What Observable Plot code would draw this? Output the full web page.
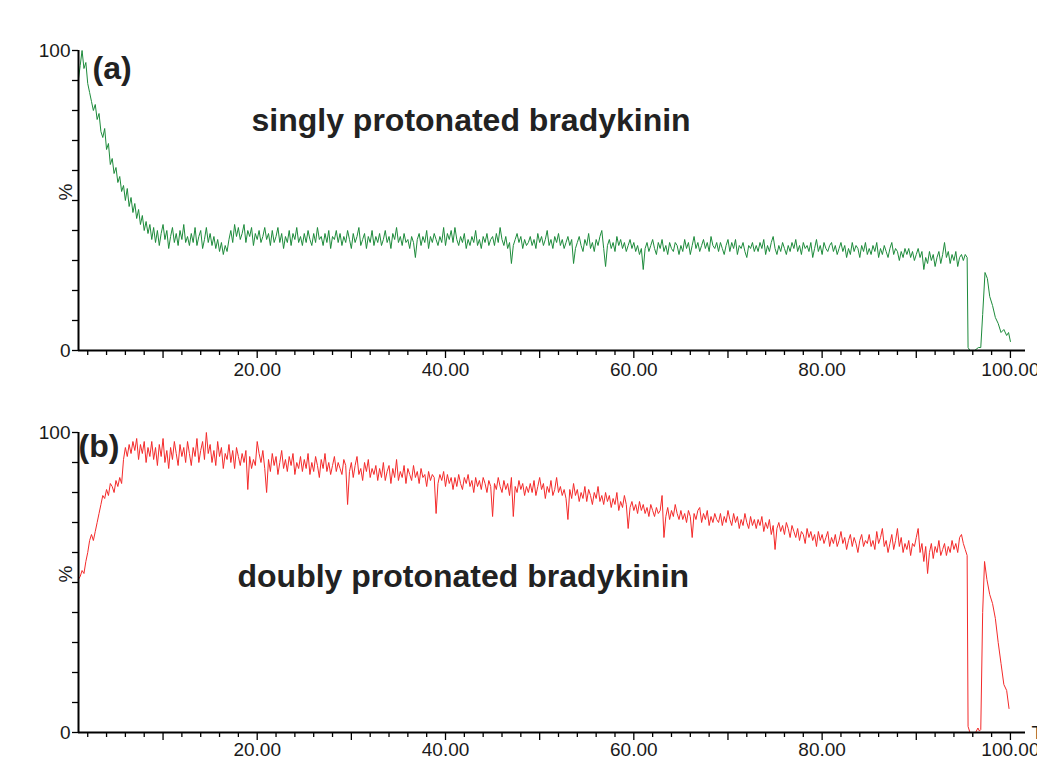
<!DOCTYPE html>
<html>
<head>
<meta charset="utf-8">
<script src="https://cdn.jsdelivr.net/npm/d3@7"></script>
<script src="https://cdn.jsdelivr.net/npm/@observablehq/plot@0.6"></script>
<style>
  html, body { margin: 0; padding: 0; background: #fff; overflow: hidden; width: 1037px; height: 757px; }
  #chart div { display: block; }
</style>
</head>
<body>
<div id="chart"></div>
<script>
// ---- data ----
const timeStart = 1.0;   // min
const timeStep = 0.2;    // min, sampling of the noisy trace

// (a) singly protonated bradykinin, % intensity on the regular grid (1.0 ... 95.4)
const seriesA = [
  90,95,100,94,96,89,86,83,80,82,77,79,73,71,74,67,69,62,64,59,
  61,56,58,53,55,50,54,48,51,46,49,44,47,42,45,40,43,39,42,37,
  41,36,40,35,39,42,37,40,34,38,41,36,39,35,40,37,42,36,38,35,
  39,36,41,35,38,40,34,37,41,36,39,35,38,34,37,33,36,32,35,33,
  37,40,36,42,38,41,37,39,42,36,40,38,41,35,39,37,40,36,38,41,
  37,39,35,40,36,38,41,36,39,34,38,36,40,35,39,37,41,36,38,35,
  39,36,40,37,35,39,36,41,37,38,35,39,36,40,34,38,37,40,36,39,
  35,38,36,40,37,34,39,36,38,41,35,37,39,34,38,36,40,35,38,36,
  39,35,37,40,36,38,34,39,37,41,36,38,35,39,36,37,34,38,36,31,
  37,39,35,38,36,40,34,38,36,39,37,35,38,36,41,35,39,37,40,36,
  41,37,35,38,36,39,34,37,35,38,36,40,35,37,34,38,36,39,35,37,
  38,35,39,36,41,37,35,38,34,36,29,35,37,39,36,38,34,37,35,36,
  38,35,37,34,39,36,38,35,37,40,35,37,34,38,36,39,35,37,34,36,
  38,35,37,29,34,36,38,35,33,37,35,39,34,36,33,37,35,38,40,34,
  28,35,37,34,36,33,38,35,37,34,36,33,35,37,34,36,33,35,32,34,
  27,34,36,33,35,37,34,32,36,34,37,33,35,32,36,34,33,36,35,32,
  35,33,37,34,36,32,35,38,34,36,33,35,37,34,36,33,38,35,34,36,
  33,36,34,32,35,37,33,36,34,37,32,35,34,36,33,31,35,34,36,33,
  35,33,36,34,37,32,35,33,36,38,34,32,35,33,36,34,32,35,33,36,
  34,37,33,35,32,36,34,35,33,36,31,34,37,33,35,32,36,34,33,35,
  36,33,35,32,34,36,33,35,31,34,32,36,33,35,34,31,35,33,36,32,
  34,32,35,33,36,31,34,32,35,33,31,34,36,32,34,33,30,33,31,34,
  32,34,31,33,30,32,34,31,33,27,31,29,33,30,32,28,31,33,29,32,
  36,31,33,29,32,30,33,28,31,32,30,32,31
];
const tailTimesA  = [95.5, 95.7, 96.2, 96.6, 96.85, 97.05, 97.3, 97.55, 97.8, 98.1, 98.4, 98.7, 99.0, 99.3, 99.6, 99.8, 100.0];
const tailValuesA = [1, 0, 0, 1, 1, 12, 26, 24, 18, 15, 11, 9, 6, 7, 5, 6, 3];

// (b) doubly protonated bradykinin, % intensity on the regular grid (1.0 ... 95.4)
const seriesB = [
  51,52,54,53,57,60,64,66,64,67,70,73,76,79,78,81,79,83,82,80,
  84,82,85,83,91,95,92,96,93,97,94,98,91,96,93,97,90,95,92,97,
  91,95,89,96,92,98,90,94,88,95,91,97,93,89,96,92,95,90,97,93,
  89,95,92,98,90,94,97,91,100,93,96,90,94,89,97,92,95,88,93,91,
  96,90,94,88,95,92,89,93,90,94,81,92,88,91,89,97,93,90,94,88,
  80,91,87,93,89,92,86,90,94,88,91,87,92,89,93,86,90,88,92,87,
  91,88,93,86,90,87,92,89,85,91,88,93,87,90,86,89,92,87,90,88,
  86,91,89,76,87,90,85,89,92,86,88,84,90,87,91,85,88,86,89,84,
  88,85,90,84,87,89,83,88,85,91,84,87,85,89,83,88,86,84,89,85,
  87,83,88,85,86,82,87,84,86,85,73,83,86,84,87,82,86,83,85,81,
  85,82,86,83,81,85,83,86,82,84,80,85,82,84,81,85,83,80,84,82,
  72,83,81,85,82,80,84,81,83,79,85,72,82,80,84,81,83,79,82,80,
  83,80,84,79,82,85,81,83,78,82,80,84,79,81,85,80,82,79,81,78,
  71,81,78,83,79,81,77,80,78,82,77,81,79,76,80,78,82,77,79,76,
  80,77,79,75,78,76,80,74,77,75,79,76,68,75,77,74,76,73,77,74,
  76,73,75,72,76,74,72,75,73,74,79,65,72,75,71,74,72,76,73,71,
  74,71,73,70,74,72,65,73,71,74,75,70,73,71,74,69,72,70,73,71,
  70,73,69,72,70,74,71,69,73,70,72,68,71,69,73,70,68,72,69,71,
  68,71,69,72,67,70,68,71,66,69,61,68,70,67,69,66,70,68,65,69,
  67,65,68,64,67,66,63,68,65,67,64,66,62,67,64,66,63,65,67,62,
  65,63,66,62,64,67,63,65,61,64,66,62,65,63,60,64,66,62,64,63,
  66,62,64,61,67,63,65,68,62,64,60,63,66,61,64,68,62,65,60,63,
  61,64,59,63,62,65,68,60,63,57,62,53,60,63,58,62,60,64,59,61,
  63,59,62,60,64,61,63,60,65,66,63,61,59
];
const tailTimesB  = [95.5, 95.7, 96.3, 96.55, 96.7, 96.85, 97.05, 97.25, 97.5, 97.8, 98.1, 98.4, 98.7, 99.0, 99.3, 99.6, 99.85];
const tailValuesB = [2, 0, 0, 1.5, 0.5, 1, 40, 57, 51, 46, 43, 38, 30, 23, 16, 14, 8];

// axis ticks and labels
const xDomain = [1.02, 101.6];
const xMinorTicks = [2,4,6,8,12,14,16,18,22,24,26,28,32,34,36,38,42,44,46,48,52,54,56,58,62,64,66,68,72,74,76,78,82,84,86,88,92,94,96,98];
const xMajorTicks = [10,20,30,40,50,60,70,80,90,100];
const xLabelTicks = [20,40,60,80,100];
const yTicks = [0,10,20,30,40,50,60,70,80,90,100];
const yLabeled = {0: "0", 100: "100"};
const yUnit = "%";
const xUnit = "Time";
const tags = ["(a)", "(b)"];
const titles = ["singly protonated bradykinin", "doubly protonated bradykinin"];
const colors = ["#1d8b3b", "#f42a2a"];

function rowsOf(values, tailT, tailV) {
  return values.map((v, i) => ({t: timeStart + i * timeStep, v}))
    .concat(tailT.map((t, i) => ({t, v: tailV[i]})));
}

const FONT = "'Liberation Sans', Arial, Helvetica, sans-serif";

function panel(o) {
  const marks = [
    Plot.line(o.rows, {x: "t", y: "v", stroke: o.color, strokeWidth: 1}),
    Plot.axisX({ticks: xMinorTicks, tickSize: 5, tickFormat: () => "", label: null, strokeWidth: 1.3}),
    Plot.axisX({ticks: xMajorTicks, tickSize: 8, tickFormat: () => "", label: null, strokeWidth: 1.3}),
    Plot.axisX({ticks: xLabelTicks, tickSize: 0, tickPadding: o.labelPad, tickFormat: d3.format(".2f"), label: null, fill: "#1a1a1a"}),
    Plot.axisY({ticks: yTicks, tickSize: 6, tickPadding: 2, tickFormat: d => yLabeled[d] ?? "", label: null, strokeWidth: 1.3, fill: "#1a1a1a"}),
    Plot.ruleY([0], {stroke: "#000", strokeWidth: 2}),
    Plot.ruleX([xDomain[0]], {stroke: "#000", strokeWidth: 2}),
    Plot.text([{v: 50, s: yUnit}], {y: "v", text: "s", frameAnchor: "left", dx: -13, rotate: -90, fontSize: 19, fill: "#1a1a1a"}),
    Plot.text([o.tag], {frameAnchor: "top-left", textAnchor: "start", lineAnchor: "top", dx: o.tagDx, dy: o.tagDy, fontSize: 32, fontWeight: "bold", fill: "#222"}),
    Plot.text([o.title], {frameAnchor: "top-left", textAnchor: "start", lineAnchor: "top", dx: o.titleDx, dy: o.titleDy, fontSize: 32, fontWeight: "bold", fill: "#222"})
  ];
  if (o.timeLabel) {
    marks.push(Plot.text([xUnit], {frameAnchor: "bottom-right", textAnchor: "start", lineAnchor: "middle", dx: 6, fontSize: 19, fill: "#1a1a1a"}));
  }
  return Plot.plot({
    width: 1037,
    height: o.height,
    marginLeft: 78,
    marginRight: 12,
    marginTop: o.marginTop,
    marginBottom: o.marginBottom,
    x: {domain: xDomain},
    y: {domain: [0, 100]},
    style: {fontFamily: FONT, fontSize: "19px", color: "#000", background: "#fff", overflow: "visible"},
    marks
  });
}

const chart = document.getElementById("chart");
chart.append(panel({
  rows: rowsOf(seriesA, tailTimesA, tailValuesA), color: colors[0],
  tag: tags[0], title: titles[0],
  height: 385, marginTop: 50, marginBottom: 35, labelPad: 12,
  tagDx: 14, tagDy: 6, titleDx: 173, titleDy: 58, timeLabel: false
}));
chart.append(panel({
  rows: rowsOf(seriesB, tailTimesB, tailValuesB), color: colors[1],
  tag: tags[1], title: titles[1],
  height: 372, marginTop: 47, marginBottom: 25, labelPad: 10,
  tagDx: 0, tagDy: 2, titleDx: 159, titleDy: 132, timeLabel: true
}));
</script>
</body>
</html>
